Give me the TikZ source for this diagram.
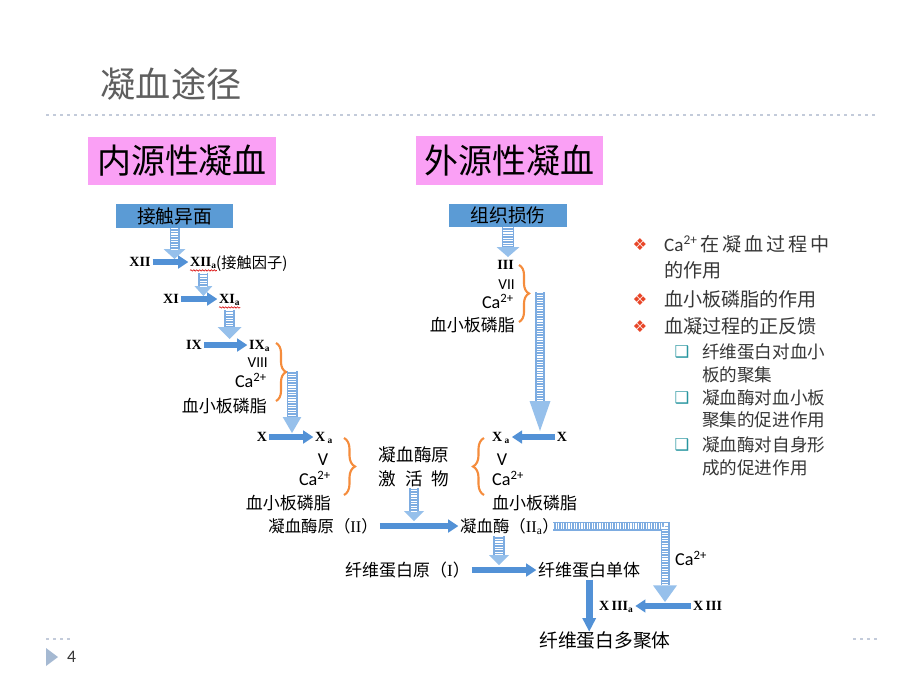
\documentclass[tikz,border=0pt]{standalone}
\usepackage{fontspec}
\setmainfont{Liberation Serif}
\newfontfamily\cjk{Noto Sans CJK SC}
\newfontfamily\cali{Carlito}
\newfontfamily\dejavu{DejaVu Sans}
\usetikzlibrary{positioning,arrows.meta,decorations.pathreplacing,decorations.pathmorphing}

\definecolor{boxblue}{RGB}{91,155,213}
\definecolor{pinkbg}{RGB}{250,160,245}
\definecolor{bandline}{RGB}{125,172,225}
\definecolor{bandtip}{RGB}{150,192,235}
\definecolor{flowblue}{RGB}{82,145,214}
\definecolor{braceor}{RGB}{245,140,60}
\definecolor{bulletred}{RGB}{232,70,40}
\definecolor{boxteal}{RGB}{40,150,160}
\definecolor{dotgray}{RGB}{195,203,218}
\definecolor{titlegray}{RGB}{95,95,95}
\definecolor{panelgray}{RGB}{55,55,55}
\definecolor{pagetri}{RGB}{165,185,210}

\begin{document}
\begin{tikzpicture}[x=0.03cm, y=-0.03cm, every node/.style={inner sep=0pt},
  cn/.style={font=\cjk\fontsize{14.5}{17}\selectfont, text height=12pt, text depth=1pt},
  rn/.style={font=\bfseries\fontsize{12}{14}\selectfont, text height=8pt, text depth=0pt},
  sn/.style={font=\cali\fontsize{15.5}{18}\selectfont, text height=10pt, text depth=0pt},
  pinkbox/.style={fill=pinkbg, font=\cjk\fontsize{29}{32}\selectfont},
  bluebox/.style={fill=boxblue, font=\cjk\fontsize{16}{19}\selectfont},
  band/.style n args={3}{draw=bandline, line width=#1,
    -{Triangle[width=#2,length=#3,line width=0pt,color=bandtip]},
    postaction={draw=white, line width=#1-3pt, dash pattern=on 1pt off 1.2pt, arrows=-, shorten >=#3}},
  flow/.style={draw=flowblue, line width=0.17cm, shorten <=1.5pt, shorten >=1.5pt,
    -{Triangle[width=0.4cm,length=0.3cm,line width=0pt]}},
  brc/.style={draw=braceor, line width=1.8pt, decorate, decoration={brace, amplitude=#1}},
  squig/.style={draw=red!85!black, line width=0.5pt, decorate, decoration={snake, amplitude=0.6pt, segment length=2.5pt}},
  dots/.style={draw=dotgray, line width=0.06cm, dash pattern=on 0.09cm off 0.12cm},
  pt/.style={font=\cjk\fontsize{16.3}{19}\selectfont, text height=13pt, text depth=1.5pt, text=panelgray, anchor=west},
  sub/.style={font=\cjk\fontsize{15}{18}\selectfont, text height=12.5pt, text depth=1pt, text=panelgray, anchor=west},
  bul/.style={font=\dejavu\fontsize{14}{16}\selectfont, text=bulletred},
  sbul/.style={font=\dejavu\fontsize{14}{16}\selectfont, text=boxteal}]

  \fill[white] (0,0) rectangle (920,690);
  \useasboundingbox (0,0) rectangle (920,690);

  %----- 标题与页脚 -----
  \node[font=\cjk\fontsize{30}{34}\selectfont, text=titlegray] (title) at (171,84) {凝血途径};
  \draw[dots] (46,115) -- (877,115);
  \draw[dots] (46,639) -- (70,639);
  \draw[dots] (853,639) -- (877,639);
  \fill[pagetri] (46,648) -- (58,657) -- (46,666) -- cycle;
  \node[font=\cali\fontsize{15}{17}\selectfont, text=panelgray, anchor=west] (pageno) at (67,657) {4};

  %----- 两条途径的起点 -----
  \node[pinkbox, minimum width=5.64cm, minimum height=1.44cm] (intr) at (182,161) {内源性凝血};
  \node[pinkbox, minimum width=5.61cm, minimum height=1.47cm] (extr) at (509.5,160.5) {外源性凝血};
  \node[bluebox, minimum width=3.51cm, minimum height=0.72cm] (contact) at (174.5,216) {接触异面};
  \node[bluebox, minimum width=3.54cm, minimum height=0.69cm] (tissue) at (508,215.5) {组织损伤};

  %----- 内源性:XII -> XI -> IX -----
  \node[rn] (xii) at (140,262) {XII};
  \node[rn, anchor=west] (xiia) at (190,262) {XII\textsubscript{a}};
  \node[cn, font=\cjk\fontsize{13}{16}\selectfont, anchor=west] (xiiname) at (216,262) {(接触因子)};
  \coordinate (tipA) at (174.5,259);
  \draw[band={0.3cm}{0.66cm}{0.3cm}] (contact) -- (tipA);
  \draw[flow] (xii.east) -- (xii.east -| xiia.west);

  \node[rn] (xi) at (171,299) {XI};
  \node[rn, anchor=west] (xia) at (219,299) {XI\textsubscript{a}};
  \coordinate (tipB) at (202,296);
  \draw[band={0.3cm}{0.54cm}{0.3cm}] ([yshift=-5pt]xiia.south) -- (xiia.south |- tipB);
  \draw[flow] (xi.east) -- (xi.east -| xia.west);

  \node[rn] (ix) at (194,345) {IX};
  \node[rn, anchor=west] (ixa) at (249,345) {IX\textsubscript{a}};
  \coordinate (tipC) at (228,339);
  \draw[band={0.33cm}{0.72cm}{0.36cm}] ([yshift=-5pt]xia.south) -- (xia.south |- tipC);
  \draw[flow] (ix.east) -- (ix.east -| ixa.west);
  \draw[squig] ([yshift=-3pt]xiia.south west) -- ([yshift=-3pt]xiia.south east);
  \draw[squig] ([yshift=-3pt]xia.south west) -- ([yshift=-3pt]xia.south east);

  \node[sn, font=\cali\fontsize{13}{15}\selectfont, anchor=east] (viii) at (268,362) {VIII};
  \node[sn, anchor=east] (ca1) at (267,382) {Ca\textsuperscript{2+}};
  \node[cn, anchor=east] (plt1) at (267,406) {血小板磷脂};
  \draw[brc=0.3cm] (276,343) -- (276,401);
  \coordinate (topD) at (292,371);
  \coordinate (tipD) at (292,433);
  \draw[band={0.33cm}{0.56cm}{0.48cm}] (topD) -- (tipD);

  %----- X 的激活(两侧) -----
  \node[rn] (x1) at (262,437) {X};
  \node[rn, anchor=west] (xa1) at (315,437) {X\,\textsubscript{a}};
  \draw[flow] (x1.east) -- (x1.east -| xa1.west);
  \node[sn] (v1) at (323,460) {V};
  \node[sn, anchor=east] (ca2) at (331,480) {Ca\textsuperscript{2+}};
  \node[cn, anchor=east] (plt2) at (331,503) {血小板磷脂};
  \draw[brc=0.33cm] (344,438) -- (344,495);

  \node[font=\cjk\fontsize{15}{21}\selectfont, align=center] (act) at (414,467) {凝血酶原\\激\hspace{0.5em}活\hspace{0.5em}物};

  \draw[brc=0.33cm] (484,495) -- (484,438);
  \node[rn, anchor=west] (xa2) at (492,437) {X\,\textsubscript{a}};
  \node[rn] (x2) at (562,437) {X};
  \draw[flow] (x2.west) -- (x2.west -| xa2.east);
  \node[sn] (v2) at (502,460) {V};
  \node[sn, anchor=west] (ca3) at (492,480) {Ca\textsuperscript{2+}};
  \node[cn, anchor=west] (plt3) at (492,503) {血小板磷脂};

  %----- 外源性:III, VII -----
  \coordinate (tipE) at (508,257);
  \draw[band={0.38cm}{0.69cm}{0.3cm}] (tissue) -- (tipE);
  \node[rn, anchor=east] (iii) at (514,265) {III};
  \node[sn, font=\cali\fontsize{13}{15}\selectfont, anchor=east] (vii) at (515,284) {VII};
  \node[sn, anchor=east] (ca5) at (514,303) {Ca\textsuperscript{2+}};
  \node[cn, anchor=east] (plt4) at (515,325) {血小板磷脂};
  \draw[brc=0.3cm] (519,265) -- (519,322);
  \coordinate (topF) at (540,292);
  \coordinate (tipF) at (540,431);
  \draw[band={0.3cm}{0.63cm}{0.9cm}] (topF) -- (tipF);

  %----- 凝血酶 -----
  \coordinate (tipG) at (413,521);
  \draw[band={0.3cm}{0.6cm}{0.3cm}] (act) -- (act.south |- tipG);
  \node[cn, font=\cjk\fontsize{14}{17}\selectfont, anchor=east] (proth) at (378,526) {凝血酶原（{\rmfamily II}）};
  \node[cn, font=\cjk\fontsize{14}{17}\selectfont, anchor=west] (thr) at (460,526) {凝血酶（{\rmfamily II\textsubscript{a}}）};
  \draw[flow] (proth.east) -- (proth.east -| thr.west);

  \coordinate (startH) at (553,526);
  \coordinate (tipH) at (665,602);
  \draw[band={0.27cm}{0.72cm}{0.5cm}, line join=miter] (startH) -| (tipH);
  \node[sn, anchor=west] (ca4) at (675,560) {Ca\textsuperscript{2+}};
  \node[rn, anchor=west] (xiiia) at (599,606) {X\,III\textsubscript{a}};
  \node[rn, anchor=west] (x3) at (693,606) {X\,III};
  \draw[flow] (x3.west) -- (x3.west -| xiiia.east);

  %----- 纤维蛋白 -----
  \coordinate (tipI) at (499,565);
  \draw[band={0.36cm}{0.6cm}{0.3cm}] ([yshift=-2pt]thr.south -| tipI) -- (tipI);
  \node[cn, anchor=east] (fbg) at (470,570) {纤维蛋白原（{\rmfamily I}）};
  \node[cn, anchor=west] (mono) at (538,570) {纤维蛋白单体};
  \draw[flow] (fbg.east) -- (fbg.east -| mono.west);
  \node[cn, font=\cjk\fontsize{16}{19}\selectfont] (poly) at (605,641) {纤维蛋白多聚体};
  \draw[flow, line width=0.2cm, -{Triangle[width=0.42cm,length=0.4cm,line width=0pt]}] (mono.south) -- (mono.south |- poly.north);

  %----- 右侧要点 -----
  \node[bul] (bul1) at (640,245) {❖};
  \node[pt] (pt1a) at (664,245) {\makebox[4.95cm][s]{{\cali Ca\textsuperscript{2+}}\hfil 在\hfil 凝\hfil 血\hfil 过\hfil 程\hfil 中}};
  \node[pt] (pt1b) at (664,271) {的作用};
  \node[bul] (bul2) at (640,300) {❖};
  \node[pt] (pt2) at (664,300) {血小板磷脂的作用};
  \node[bul] (bul3) at (640,327) {❖};
  \node[pt] (pt3) at (664,327) {血凝过程的正反馈};
  \node[sbul] (sb1) at (682,352) {❑};
  \node[sub] (sub1a) at (702,352) {纤维蛋白对血小};
  \node[sub] (sub1b) at (702,375) {板的聚集};
  \node[sbul] (sb2) at (682,398) {❑};
  \node[sub] (sub2a) at (702,398) {凝血酶对血小板};
  \node[sub] (sub2b) at (702,420) {聚集的促进作用};
  \node[sbul] (sb3) at (682,445) {❑};
  \node[sub] (sub3a) at (702,445) {凝血酶对自身形};
  \node[sub] (sub3b) at (702,468) {成的促进作用};
\end{tikzpicture}
\end{document}
